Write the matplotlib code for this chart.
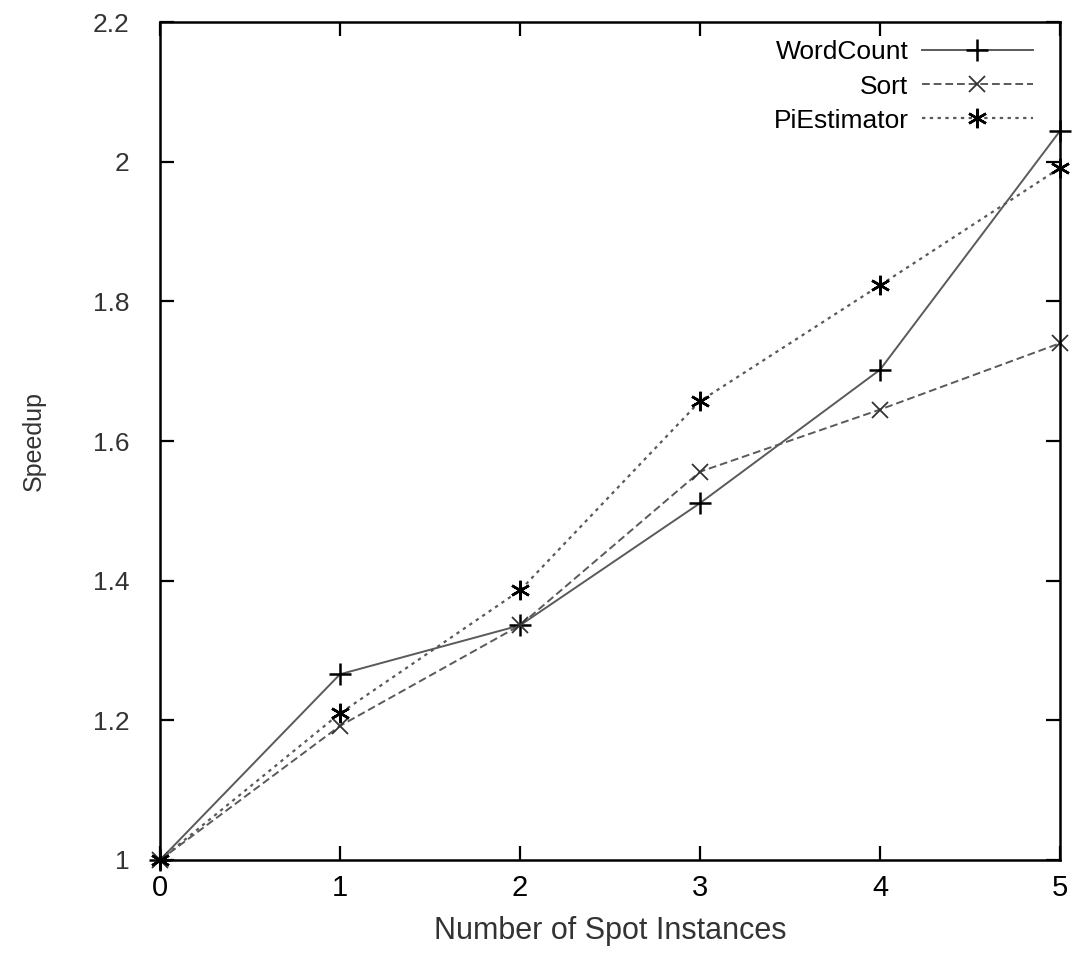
import matplotlib
matplotlib.use("Agg")
import matplotlib.pyplot as plt

spot_instances = [0, 1, 2, 3, 4, 5]
wordcount = [1.0, 1.266, 1.336, 1.511, 1.702, 2.044]
sort = [1.0, 1.192, 1.336, 1.556, 1.645, 1.740]
pi_estimator = [1.0, 1.210, 1.386, 1.657, 1.823, 1.991]

x_ticks = [0, 1, 2, 3, 4, 5]
y_ticks = [1.0, 1.2, 1.4, 1.6, 1.8, 2.0, 2.2]
y_tick_labels = ["1", "1.2", "1.4", "1.6", "1.8", "2", "2.2"]

plt.rcParams["font.family"] = ["Liberation Sans", "DejaVu Sans"]

fig = plt.figure(figsize=(10.78, 9.61), dpi=100)
ax = fig.add_axes([0.1484, 0.1051, 0.8349, 0.872])

line_color = "#5a5a5a"
asterisk = (6, 2, 0)

ax.plot(spot_instances, wordcount, color=line_color, linestyle="-", linewidth=1.4,
        marker="+", markersize=16, markeredgewidth=1.8, markeredgecolor="black",
        label="WordCount", clip_on=False)
ax.plot(spot_instances, sort, color=line_color, linestyle=(0, (4, 2)), linewidth=1.4,
        marker="x", markersize=12, markeredgewidth=1.3, markeredgecolor="#333333",
        label="Sort", clip_on=False)
ax.plot(spot_instances, pi_estimator, color=line_color, linestyle=(0, (1.5, 2)), linewidth=1.6,
        marker=asterisk, markersize=14, markeredgewidth=1.8, markeredgecolor="black",
        label="PiEstimator", clip_on=False)

ax.set_xlim(0, 5)
ax.set_ylim(1.0, 2.2)
ax.set_xticks(x_ticks)
ax.set_yticks(y_ticks)
ax.set_yticklabels(y_tick_labels)

ax.tick_params(direction="in", length=10, width=1.6, top=True, right=True,
               labelsize=19, colors="black")
ax.tick_params(axis="x", pad=10, labelsize=21)
ax.tick_params(axis="y", pad=22, labelcolor="#333333")
for side in ax.spines.values():
    side.set_linewidth(1.8)

ax.set_xlabel("Number of Spot Instances", fontsize=22, labelpad=10, color="#333333")
ax.set_ylabel("Speedup", fontsize=18, labelpad=34, color="#333333")

ax.legend(loc="upper right", frameon=False, markerfirst=False, fontsize=19,
          handlelength=4.2, handletextpad=0.5, labelspacing=0.38,
          borderaxespad=0.3, bbox_to_anchor=(0.99, 1.0))

plt.savefig("out.png", dpi=100)
plt.close()
